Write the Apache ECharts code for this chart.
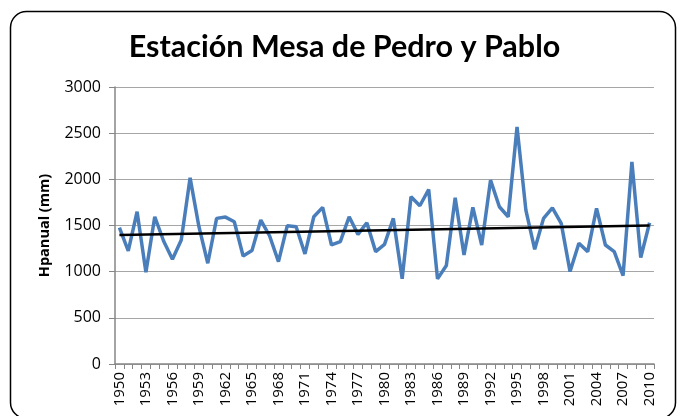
<!DOCTYPE html>
<html>
<head>
<meta charset="utf-8">
<script src="https://cdn.jsdelivr.net/npm/echarts@6/dist/echarts.min.js"></script>
<style>html,body{margin:0;padding:0;background:#fff}#c{width:689px;height:416px}</style>
</head>
<body>
<div id="c"></div>
<script>
const years = [];
for (let y = 1950; y <= 2010; y++) years.push(String(y));
const hpanual = [1476,1224,1649,994,1595,1332,1134,1343,2016,1487,1091,1577,1591,1541,1170,1228,1559,1386,1109,1498,
  1487,1192,1595,1696,1289,1325,1595,1404,1530,1217,1296,1577,922,1811,1714,1890,922,1066,1800,1181,
  1696,1289,1991,1703,1595,2567,1667,1242,1577,1692,1523,1001,1307,1217,1685,1289,1217,958,2189,1152,1530];
const trendStart = 1397;
const trendEnd = 1500;
const yTicks = [0, 500, 1000, 1500, 2000, 2500, 3000];

const trend = years.map((_, i) => i === 0 ? trendStart : (i === years.length - 1 ? trendEnd : null));

const chart = echarts.init(document.getElementById('c'));
chart.setOption({
  backgroundColor: '#ffffff',
  animation: false,
  title: {
    text: 'Estación Mesa de Pedro y Pablo',
    left: 'center',
    top: 27,
    textStyle: { fontFamily: 'Lato', fontWeight: 'bold', fontSize: 30.5, color: '#000' }
  },
  graphic: [{
    type: 'rect',
    shape: { x: 10.5, y: 11.5, width: 665, height: 407, r: 16 },
    style: { fill: 'none', stroke: '#000', lineWidth: 1.5 },
    silent: true
  }],
  grid: { left: 115, right: 35, top: 87, bottom: 52 },
  xAxis: {
    type: 'category',
    data: years,
    boundaryGap: true,
    axisLine: { lineStyle: { color: '#868686', width: 1.5 } },
    axisTick: { show: true, interval: 0, length: 5, lineStyle: { color: '#868686' } },
    axisLabel: { interval: 2, rotate: 90, margin: 8, fontFamily: 'Open Sans', fontSize: 15, color: '#000' }
  },
  yAxis: {
    type: 'value',
    min: yTicks[0],
    max: yTicks[yTicks.length - 1],
    interval: 500,
    name: 'Hpanual (mm)',
    nameLocation: 'middle',
    nameGap: 63,
    nameTextStyle: { fontFamily: 'Open Sans', fontWeight: 'bold', fontSize: 14.5, color: '#000' },
    axisLine: { show: true, lineStyle: { color: '#868686', width: 1.5 } },
    axisTick: { show: true, length: 6, lineStyle: { color: '#868686' } },
    axisLabel: { margin: 14, fontFamily: 'Open Sans', fontSize: 16, color: '#000', formatter: v => String(v) },
    splitLine: { lineStyle: { color: '#a6a6a6', width: 1.2 } }
  },
  series: [{
    type: 'line',
    data: hpanual,
    symbol: 'none',
    lineStyle: { color: '#4a7ebb', width: 3.5 },
    z: 2
  }, {
    type: 'line',
    data: trend,
    connectNulls: true,
    symbol: 'none',
    lineStyle: { color: '#000', width: 2.5 },
    z: 3
  }]
});
</script>
</body>
</html>
